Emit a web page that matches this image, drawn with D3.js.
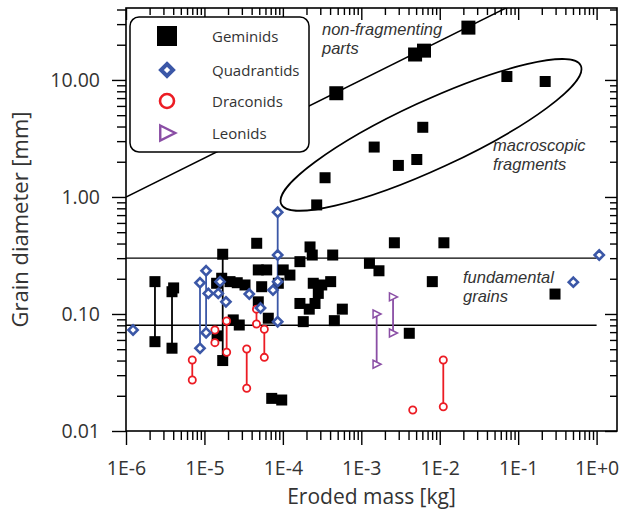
<!DOCTYPE html>
<html>
<head>
<meta charset="utf-8">
<script src="https://cdn.jsdelivr.net/npm/d3@7"></script>
<style>
body{margin:0;background:#fff;}
svg{display:block;font-family:"Open Sans",sans-serif;}
</style>
</head>
<body>
<svg id="chart" width="621" height="509"></svg>
<script>
// values: [eroded mass kg, grain diameter mm]
// pairs: [mass, upper diameter, lower diameter] joined by a vertical line
const gemNonFrag = [[4.8e-4, 7.7], [4.85e-3, 16.5], [6.3e-3, 17.8], [0.0232, 28]];
const gemMacro = [[2.7e-4, 0.855], [3.45e-4, 1.46], [1.46e-3, 2.67], [2.97e-3, 1.86],
  [5.1e-3, 2.09], [6.08e-3, 3.94], [0.0718, 10.7], [0.221, 9.7]];
const gemFund = [[1.43e-5, 0.183], [1.66e-5, 0.202], [2.12e-5, 0.189], [2.62e-5, 0.185],
  [3.29e-5, 0.177], [2.33e-5, 0.089], [2.78e-5, 0.0805], [1.45e-5, 0.065], [4.64e-5, 0.402],
  [4.86e-5, 0.238], [6.22e-5, 0.238], [5.37e-5, 0.171], [4.86e-5, 0.127], [6.52e-5, 0.092],
  [8.75e-5, 0.183], [1.01e-4, 0.238], [1.23e-4, 0.215], [1.65e-4, 0.280], [2.22e-4, 0.374],
  [2.37e-4, 0.319], [2.44e-4, 0.183], [3.13e-4, 0.177], [2.83e-4, 0.150], [1.65e-4, 0.123],
  [2.57e-4, 0.123], [2.17e-4, 0.110], [1.82e-4, 0.086], [4.53e-4, 0.0877], [4.32e-4, 0.319],
  [2.64e-3, 0.406], [1.13e-2, 0.406], [1.27e-3, 0.271], [1.68e-3, 0.234], [4.07e-4, 0.189],
  [8.04e-3, 0.189], [5.73e-4, 0.110], [4.09e-3, 0.0684], [0.295, 0.148], [7.21e-5, 0.0190],
  [9.67e-5, 0.0184], [4.05e-6, 0.167]];
const gemPairs = [[2.34e-6, 0.189, 0.058], [3.86e-6, 0.155, 0.051], [1.71e-5, 0.324, 0.040]];

const quaPoints = [[1.23e-6, 0.073], [1.12e-5, 0.150], [1.50e-5, 0.150], [1.58e-5, 0.189],
  [1.88e-5, 0.127], [3.73e-5, 0.148], [5.19e-5, 0.1125], [7.48e-5, 0.160], [8.59e-5, 0.319],
  [8.59e-5, 0.189], [1.08, 0.319], [0.505, 0.187]];
const quaPairs = [[8.78e-6, 0.185, 0.0509], [1.05e-5, 0.234, 0.0692], [8.59e-5, 0.74, 0.0859]];

const draPoints = [[4.53e-3, 0.0151]];
const draPairs = [[7.0e-6, 0.0404, 0.0273], [1.36e-5, 0.0730, 0.0569], [1.92e-5, 0.0871, 0.0471],
  [3.46e-5, 0.0502, 0.0232], [4.61e-5, 0.110, 0.0821], [5.80e-5, 0.0740, 0.0426],
  [1.11e-2, 0.0404, 0.0161]];

const leoPoints = [];
const leoPairs = [[1.57e-3, 0.100, 0.0372], [2.54e-3, 0.140, 0.0688]];

// guides
const grainBands = [0.3, 0.08];
const bandExtent = [1e-6, 1];
const nonFragLine = [[1e-6, 1.0], [0.1, 46.4]];
const macroCenter = [7.74e-3, 3.39];

const legendNames = ["Geminids", "Quadrantids", "Draconids", "Leonids"];

const colBlue = "#3b57a7", colRed = "#ec1c24", colPurple = "#8a4ea5", ink = "#333";

const svg = d3.select("#chart");
const pl = {left: 126, right: 617, top: 8, bottom: 431};

const x = d3.scaleLog().domain([1e-6, 1.82]).range([pl.left, pl.right]);
const y = d3.scaleLog().domain([0.01, 41.2]).range([pl.bottom, pl.top]);

const isMajor = d => Math.abs(Math.log10(d) - Math.round(Math.log10(d))) < 1e-6;
const xMaj = x.ticks().filter(isMajor), xMin = x.ticks().filter(d => !isMajor(d));
const yMaj = y.ticks().filter(isMajor), yMin = y.ticks().filter(d => !isMajor(d));
const fmtX = d => { const e = Math.round(Math.log10(d)); return "1E" + (e < 0 ? "-" + (-e) : "+" + e); };
const fmtY = d3.format(".2f");

svg.append("defs").append("clipPath").attr("id", "clip")
  .append("rect").attr("x", pl.left).attr("y", pl.top)
  .attr("width", pl.right - pl.left).attr("height", pl.bottom - pl.top);

function styleAxis(g){
  g.select(".domain").remove();
  g.selectAll("line").attr("stroke", "#000").attr("stroke-width", 1.4);
  g.selectAll("text").attr("fill", ink).style("font-size", "19.5px").style("font-family", "'Open Sans',sans-serif");
}
function bare(g){ styleAxis(g); g.selectAll("text").remove(); }

// bottom / left (outward ticks with labels)
svg.append("g").attr("transform", `translate(0,${pl.bottom})`)
  .call(d3.axisBottom(x).tickValues(xMaj).tickSize(14).tickPadding(16.5).tickFormat(fmtX)).call(styleAxis);
svg.append("g").attr("transform", `translate(0,${pl.bottom})`)
  .call(d3.axisBottom(x).tickValues(xMin).tickSize(9)).call(bare);
svg.append("g").attr("transform", `translate(${pl.left},0)`)
  .call(d3.axisLeft(y).tickValues(yMaj).tickSize(14).tickPadding(12).tickFormat(fmtY)).call(styleAxis);
svg.append("g").attr("transform", `translate(${pl.left},0)`)
  .call(d3.axisLeft(y).tickValues(yMin).tickSize(9)).call(bare);
// top / right (inward ticks)
svg.append("g").attr("transform", `translate(0,${pl.top})`)
  .call(d3.axisTop(x).tickValues(xMaj).tickSize(-12)).call(bare);
svg.append("g").attr("transform", `translate(0,${pl.top})`)
  .call(d3.axisTop(x).tickValues(xMin).tickSize(-7)).call(bare);
svg.append("g").attr("transform", `translate(${pl.right},0)`)
  .call(d3.axisRight(y).tickValues(yMaj).tickSize(-12)).call(bare);
svg.append("g").attr("transform", `translate(${pl.right},0)`)
  .call(d3.axisRight(y).tickValues(yMin).tickSize(-7)).call(bare);

svg.append("rect").attr("x", pl.left).attr("y", pl.top)
  .attr("width", pl.right - pl.left).attr("height", pl.bottom - pl.top)
  .attr("fill", "none").attr("stroke", "#000").attr("stroke-width", 1.6);

// axis titles
svg.append("text").attr("x", (pl.left + pl.right) / 2).attr("y", 504)
  .attr("text-anchor", "middle").attr("fill", ink).style("font-size", "21px")
  .text("Eroded mass [kg]");
svg.append("text").attr("transform", `translate(28,${(pl.top + pl.bottom) / 2}) rotate(-90)`)
  .attr("text-anchor", "middle").attr("fill", ink).style("font-size", "22px")
  .text("Grain diameter [mm]");

// guides
const guides = svg.append("g").attr("clip-path", "url(#clip)");
guides.selectAll(".band").data(grainBands).enter().append("line")
  .attr("x1", x(bandExtent[0])).attr("x2", x(bandExtent[1]))
  .attr("y1", d => y(d)).attr("y2", d => y(d))
  .attr("stroke", "#000").attr("stroke-width", 1.4);
guides.append("path").datum(nonFragLine)
  .attr("d", d3.line().x(d => x(d[0])).y(d => y(d[1])))
  .attr("fill", "none").attr("stroke", "#000").attr("stroke-width", 1.5);
guides.append("ellipse")
  .attr("transform", `translate(${x(macroCenter[0])},${y(macroCenter[1])}) rotate(-24.8)`)
  .attr("rx", 165).attr("ry", 34)
  .attr("fill", "none").attr("stroke", "#000").attr("stroke-width", 1.7);

// annotations (two lines each)
const notes = [
  [["non-fragmenting", "parts"], 322, 35],
  [["macroscopic", "fragments"], 493, 151],
  [["fundamental", "grains"], 463, 283]
];
const noteText = svg.selectAll(".note").data(notes).enter().append("text")
  .attr("fill", ink).style("font-family", "'Liberation Sans',Arial,sans-serif")
  .style("font-size", "16.5px").style("font-style", "italic");
noteText.selectAll("tspan").data(d => d[0].map((t, i) => [t, d[1], d[2] + i * 18.6])).enter()
  .append("tspan").attr("x", d => d[1]).attr("y", d => d[2]).text(d => d[0]);

// marker shapes
function square(g, s){ return g.append("rect").attr("x", -s / 2).attr("y", -s / 2).attr("width", s).attr("height", s).attr("fill", "#000"); }
function diamond(g, r, sw){ return g.append("path").attr("d", `M0,${-r}L${r},0L0,${r}L${-r},0Z`).attr("fill", "#fff").attr("stroke", colBlue).attr("stroke-width", sw); }
function circle(g, r, sw){ return g.append("circle").attr("r", r).attr("fill", "#fff").attr("stroke", colRed).attr("stroke-width", sw); }
function triangle(g, s, sw){ return g.append("path").attr("d", `M${-s * 0.45},${-s / 2}L${s * 0.55},0L${-s * 0.45},${s / 2}Z`).attr("fill", "#fff").attr("stroke", colPurple).attr("stroke-width", sw); }

function pairLines(pairs, color){
  svg.append("g").selectAll("line").data(pairs).enter().append("line")
    .attr("x1", d => x(d[0])).attr("x2", d => x(d[0]))
    .attr("y1", d => y(d[1])).attr("y2", d => y(d[2]))
    .attr("stroke", color).attr("stroke-width", 1.8);
}
function expand(points, pairs){
  const out = points.slice();
  pairs.forEach(p => { out.push([p[0], p[1]]); out.push([p[0], p[2]]); });
  return out;
}
function drawMarkers(data, fn){
  svg.append("g").selectAll("g").data(data).enter().append("g")
    .attr("transform", d => `translate(${x(d[0])},${y(d[1])})`)
    .each(function(){ fn(d3.select(this)); });
}

pairLines(gemPairs, "#000");
pairLines(quaPairs, colBlue);
pairLines(draPairs, colRed);
pairLines(leoPairs, colPurple);

drawMarkers(gemNonFrag, g => square(g, 14));
drawMarkers(gemMacro, g => square(g, 11));
drawMarkers(expand(gemFund, gemPairs), g => square(g, 11));
drawMarkers(expand(draPoints, draPairs), g => circle(g, 3.6, 1.8));
drawMarkers(expand(quaPoints, quaPairs), g => diamond(g, 4.6, 2.6));
drawMarkers(expand(leoPoints, leoPairs), g => triangle(g, 8, 1.5));

// legend
const leg = svg.append("g");
leg.append("rect").attr("x", 130).attr("y", 17).attr("width", 179).attr("height", 135)
  .attr("rx", 9).attr("fill", "#fff").attr("stroke", "#000").attr("stroke-width", 1.5);
const legMarks = [g => square(g, 20), g => diamond(g, 6, 4), g => circle(g, 7, 2.6), g => triangle(g, 15, 2.4)];
const legRows = leg.selectAll(".row").data(legendNames).enter().append("g")
  .attr("transform", (d, i) => `translate(167,${[36, 70, 101, 133][i]})`);
legRows.each(function(d, i){ legMarks[i](d3.select(this)); });
legRows.append("text").attr("x", 45).attr("y", 6).attr("fill", ink)
  .style("font-size", "15px").text(d => d);
</script>
</body>
</html>
